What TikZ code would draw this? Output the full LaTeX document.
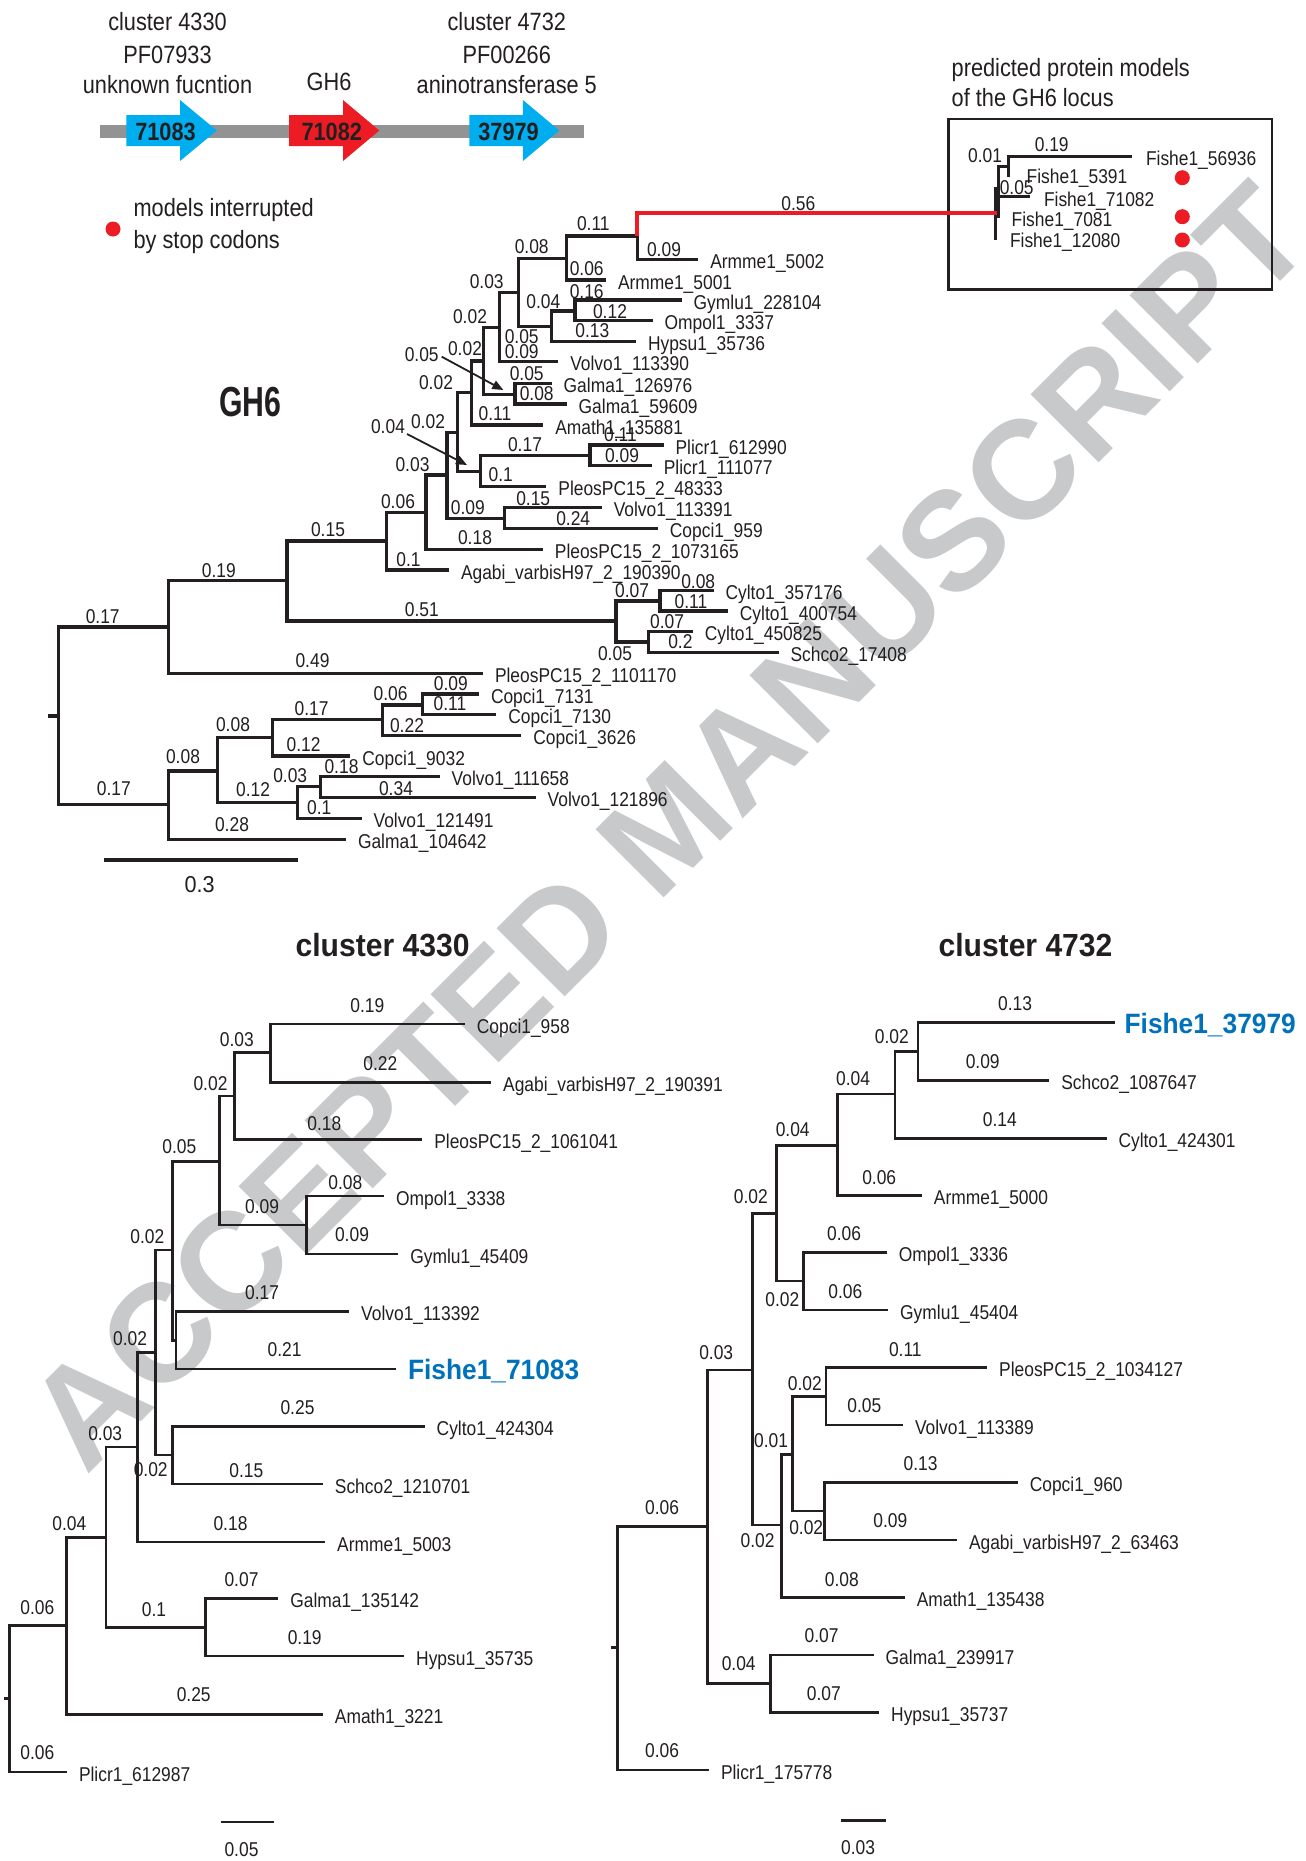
\documentclass[tikz,border=0pt]{standalone}
\usepackage{fontspec}
\usetikzlibrary{arrows.meta}
\newfontfamily\nf[FakeStretch=0.87]{Liberation Sans}
\newfontfamily\nfw[FakeStretch=0.94]{Liberation Sans}
\newfontfamily\nfg[FakeStretch=0.72]{Liberation Sans}
\newfontfamily\wmf{Liberation Sans}
\definecolor{ink}{RGB}{35,31,32}
\definecolor{gred}{RGB}{237,28,36}
\definecolor{gblue}{RGB}{0,174,239}
\definecolor{fblue}{RGB}{0,114,188}
\definecolor{bargray}{RGB}{147,147,147}
\definecolor{wmgray}{RGB}{200,201,202}
\tikzset{
  every node/.style={inner sep=0pt, outer sep=0pt, text=ink},
  gbr/.style={draw=ink, line width=3.1pt},
  lbr/.style={draw=ink, line width=2.8pt},
  ibr/.style={draw=ink, line width=3pt},
  redl/.style={draw=gred, line width=4pt},
  arr/.style={draw=ink, line width=1.8pt, -{Triangle[length=11pt,width=9pt]}},
  tl/.style={anchor=base west, font=\nf\fontsize{20}{24}\selectfont},
  bl/.style={anchor=center, font=\nf\fontsize{20}{24}\selectfont},
  toptxt/.style={anchor=base, font=\nf\fontsize{25}{30}\selectfont},
  glab/.style={anchor=base, font=\nf\bfseries\fontsize{25}{30}\selectfont},
  ttl/.style={anchor=base, font=\nfw\bfseries\fontsize{32}{36}\selectfont},
  fl/.style={anchor=base west, text=fblue, font=\nfw\bfseries\fontsize{28}{32}\selectfont},
  dot/.style={circle, fill=gred, minimum size=15pt},
}
\begin{document}
\begin{tikzpicture}[x=1pt,y=-1pt]
\useasboundingbox (0,0) rectangle (1306,1861);
\fill[white] (0,0) rectangle (1306,1861);
% watermark
\node[rotate=45, anchor=base west, text=wmgray, font=\wmf\bfseries\fontsize{140}{140}\selectfont] (wm) at (86,1476) {ACCEPTED MANUSCRIPT};

% ---------- gene locus ----------
\fill[bargray] (99.6,125) rectangle (583.6,138.3);
\fill[gblue] (126.4,115) -- (180,115) -- (180,100) -- (216.8,130.5) -- (180,161) -- (180,146) -- (126.4,146) -- cycle;
\fill[gred] (289,115) -- (343,115) -- (343,100) -- (379.3,130.5) -- (343,161) -- (343,146) -- (289,146) -- cycle;
\fill[gblue] (469.3,115) -- (522.9,115) -- (522.9,100) -- (559.3,130.5) -- (522.9,161) -- (522.9,146) -- (469.3,146) -- cycle;
\node[glab] (gene1) at (165.5,140) {71083};
\node[glab] (gene2) at (331.8,140) {71082};
\node[glab] (gene3) at (508.6,140) {37979};
\node[toptxt] (c43a) at (167.5,30) {cluster 4330};
\node[toptxt] (c43b) at (167.5,63) {PF07933};
\node[toptxt] (c43c) at (167.5,93) {unknown fucntion};
\node[toptxt] (gh6t) at (329,90) {GH6};
\node[toptxt] (c47a) at (506.8,30) {cluster 4732};
\node[toptxt] (c47b) at (506.8,63) {PF00266};
\node[toptxt] (c47c) at (506.8,93) {aninotransferase 5};
% legend
\node[dot] (legdot) at (113,229) {};
\node[toptxt, anchor=base west] (leg1) at (133.6,216.7) {models interrupted};
\node[toptxt, anchor=base west] (leg2) at (133.6,248.3) {by stop codons};

% ---------- inset ----------
\node[toptxt, anchor=base west] (ins1) at (951.7,76.7) {predicted protein models};
\node[toptxt, anchor=base west] (ins2) at (951.7,106.7) {of the GH6 locus};
\node[draw=ink, line width=2.4pt, minimum width=323.4pt, minimum height=170.3pt] (insbox) at (1110,204.15) {};
\coordinate (iR) at (996.7,213.3);
\coordinate (i1) at (995.7,186.7); \coordinate (i2) at (995.7,240);
\coordinate (i3) at (998.3,218.3); \coordinate (i4) at (1009,166.7);
\coordinate (i5) at (1008.3,176.7); \coordinate (i6) at (1132.3,156);
\coordinate (i7) at (998.3,196.7); \coordinate (i8) at (1030,196.7);
\draw[ibr] (i1) -- (i2);
\draw[ibr] (i3) |- (i4);
\draw[ibr] (i5) |- (i6);
\draw[ibr] (i7) -- (i8);
\node[tl] (f1) at (1146,165) {Fishe1\_56936};
\node[tl] (f2) at (1026.7,183.3) {Fishe1\_5391};
\node[tl] (f3) at (1044,206) {Fishe1\_71082};
\node[tl] (f4) at (1011.7,226.7) {Fishe1\_7081};
\node[tl] (f5) at (1010,247.3) {Fishe1\_12080};
\node[bl] (il1) at (985,156) {0.01};
\node[bl] (il2) at (1051.7,145) {0.19};
\node[bl] (il3) at (1016.7,187.3) {0.05};
\node[dot] (d1) at (1182.3,177.7) {};
\node[dot] (d2) at (1182.3,216.7) {};
\node[dot] (d3) at (1182.3,240) {};

% ---------- GH6 tree ----------
\node[anchor=base, font=\nfg\bfseries\fontsize{42}{42}\selectfont] (gh6title) at (250.5,416.6) {GH6};
\coordinate (gRs) at (47.8,716);
\coordinate (gR0) at (58.9,716);
\coordinate (gA) at (168.3,627);
\coordinate (gB) at (287,580.7);
\coordinate (gC) at (386.7,541);
\coordinate (gD) at (426,512.5);
\coordinate (gE) at (447,475);
\coordinate (gF) at (504.3,518.3);
\coordinate (gG) at (457.3,432.5);
\coordinate (gH) at (480.4,471.7);
\coordinate (gI) at (590,455.7);
\coordinate (gJ) at (471.7,392.7);
\coordinate (gK) at (483.3,361);
\coordinate (gL) at (515,394.3);
\coordinate (gM) at (499.3,327.5);
\coordinate (gN) at (518.5,292.7);
\coordinate (gP) at (566.7,258.3);
\coordinate (gQ) at (637.3,236);
\coordinate (gO) at (551.7,326.7);
\coordinate (gR) at (575,311);
\coordinate (gS) at (616,621);
\coordinate (gT) at (660,601);
\coordinate (gU) at (648.2,642);
\coordinate (gV) at (168.3,804.3);
\coordinate (gW) at (217.9,771);
\coordinate (gX) at (272.3,737.7);
\coordinate (gY) at (382.6,719.3);
\coordinate (gZ) at (422.8,705);
\coordinate (gAA) at (297.8,802.7);
\coordinate (gAB) at (320.5,786.7);
\foreach \n/\x/\y in {g1/698.3/259.3, g2/606/280, g3/681.7/300, g4/652.7/320.7, g5/636/341.7,
  g6/558.3/361.7, g7/551.7/383.3, g8/566.7/404, g9/543.3/425, g10/663.6/445, g11/651.8/465.7,
  g12/546.4/486.7, g13/601.8/507.7, g14/657.9/528.3, g15/542.9/549.3, g16/449/570,
  g17/713.6/590.7, g18/727.9/611, g19/692.9/631.7, g20/778.6/652.3, g21/483/673.3,
  g22/479/694, g23/496.4/714.3, g24/521.4/735.7, g25/350.4/756, g26/439.7/776.7,
  g27/535.7/797.3, g28/361.6/818.3, g29/346/839.3}
  \coordinate (\n) at (\x,\y);
\draw[gbr] (gRs) -- (gR0);
\foreach \p/\c in {gR0/gA, gR0/gV, gA/gB, gA/g21, gB/gC, gB/gS, gC/gD, gC/g16, gD/gE, gD/g15,
  gE/gG, gE/gF, gF/g13, gF/g14, gG/gJ, gG/gH, gH/gI, gH/g12, gI/g10, gI/g11, gJ/gK, gJ/g9,
  gK/gM, gK/gL, gL/g7, gL/g8, gM/gN, gM/g6, gN/gP, gN/gO, gP/gQ, gP/g2, gQ/g1, gO/gR, gO/g5,
  gR/g3, gR/g4, gS/gT, gS/gU, gT/g17, gT/g18, gU/g19, gU/g20, gV/gW, gV/g29, gW/gX, gW/gAA,
  gX/gY, gX/g25, gY/gZ, gY/g24, gZ/g22, gZ/g23, gAA/gAB, gAA/g28, gAB/g26, gAB/g27}
  \draw[gbr] (\p) |- (\c);
\draw[redl] (gQ) |- (iR);
\foreach \n/\t in {g1/Armme1\_5002, g2/Armme1\_5001, g3/Gymlu1\_228104, g4/Ompol1\_3337,
  g5/Hypsu1\_35736, g6/Volvo1\_113390, g7/Galma1\_126976, g8/Galma1\_59609, g9/Amath1\_135881,
  g10/Plicr1\_612990, g11/Plicr1\_111077, g12/PleosPC15\_2\_48333, g13/Volvo1\_113391,
  g14/Copci1\_959, g15/PleosPC15\_2\_1073165, g16/Agabi\_varbisH97\_2\_190390,
  g17/Cylto1\_357176, g18/Cylto1\_400754, g19/Cylto1\_450825, g20/Schco2\_17408,
  g21/PleosPC15\_2\_1101170, g22/Copci1\_7131, g23/Copci1\_7130, g24/Copci1\_3626,
  g25/Copci1\_9032, g26/Volvo1\_111658, g27/Volvo1\_121896, g28/Volvo1\_121491, g29/Galma1\_104642}
  \node[tl] (L\n) at ([shift={(12,9)}]\n) {\t};
\foreach \x/\y/\t [count=\i] in {102.7/616.7/0.17, 218.8/570.7/0.19, 312.5/660.7/0.49, 328/530/0.15,
  421.9/610/0.51, 408.5/559.3/0.1, 398/501.7/0.06, 475/537.3/0.18, 412.5/465/0.03, 467.9/507.3/0.09,
  533.2/498.3/0.15, 573.2/518.3/0.24, 428/421.7/0.02, 388/426.7/0.04, 525/445/0.17, 500.7/475/0.1,
  620.4/435/0.11, 622/456/0.09, 436/382.7/0.02, 495/413.3/0.11, 465/348.3/0.02, 421.7/355/0.05,
  526.7/373.3/0.05, 536.7/393.3/0.08, 470/317/0.02, 521.7/351.7/0.09, 521.7/336.7/0.05,
  486.7/281.7/0.03, 531.7/246.7/0.08, 586.7/269/0.06, 593.3/224/0.11, 664/250/0.09, 798.3/203.3/0.56,
  543.3/301.7/0.04, 592.3/330.7/0.13, 586.7/291.7/0.16, 610/311.7/0.12, 632.1/590.7/0.07,
  698.2/581.7/0.08, 691/601.7/0.11, 615/653.3/0.05, 667.1/621.7/0.07, 680.4/641.7/0.2,
  113.8/788.3/0.17, 232/825/0.28, 183/756.7/0.08, 233/725/0.08, 303.6/744.3/0.12, 311.6/708.3/0.17,
  407/725.7/0.22, 390.6/693.3/0.06, 450.9/683.3/0.09, 450/704/0.11, 253.1/789.3/0.12,
  319.2/807.3/0.1, 290.2/776/0.03, 341.5/766.7/0.18, 396/788.3/0.34}
  \node[bl] (gl\i) at (\x,\y) {\t};
\coordinate (ga1s) at (407,434); \coordinate (ga1e) at (467,465);
\draw[arr] (ga1s) -- (ga1e);
\coordinate (ga2s) at (441.7,356.7); \coordinate (ga2e) at (503.3,390);
\draw[arr] (ga2s) -- (ga2e);
\coordinate (gs1) at (103.6,860); \coordinate (gs2) at (297.8,860);
\draw[gbr] (gs1) -- (gs2);
\node[anchor=center, font=\nfw\fontsize{23}{26}\selectfont] (gsl) at (199.6,885) {0.3};

% ---------- cluster 4330 ----------
\node[ttl] (t4330) at (382.6,956.7) {cluster 4330};
\coordinate (ams) at (3.8,1698.3);
\coordinate (am) at (9.1,1698.3);
\coordinate (al) at (66.7,1625.7);
\coordinate (aj) at (106,1537.7);
\coordinate (ai) at (137.7,1447);
\coordinate (ag) at (155.7,1352.3);
\coordinate (ae) at (172.3,1250);
\coordinate (ac) at (219.5,1161.7);
\coordinate (ab) at (234.8,1096);
\coordinate (aa) at (270.4,1052.7);
\coordinate (ad) at (306.1,1225);
\coordinate (af) at (176,1340.7);
\coordinate (ah) at (172.3,1455);
\coordinate (ak) at (205.7,1627.3);
\foreach \n/\x/\y in {a1/464.9/1024, a2/491.2/1082.3, a3/422.3/1139.3, a4/384.1/1196, a5/398.4/1254,
  a6/349.2/1311.7, a7/396/1369, a8/424.7/1426.7, a9/322.9/1484, a10/325.2/1542, a11/278.4/1598.7,
  a12/404.2/1656, a13/322.9/1714.7, a14/67/1772}
  \coordinate (\n) at (\x,\y);
\draw[lbr] (ams) -- (am);
\foreach \p/\c in {am/al, am/a14, al/aj, al/a13, aj/ai, aj/ak, ai/ag, ai/a10, ag/ae, ag/ah,
  ae/ac, ae/af, ac/ab, ac/ad, ab/aa, ab/a3, aa/a1, aa/a2, ad/a4, ad/a5, af/a6, af/a7,
  ah/a8, ah/a9, ak/a11, ak/a12}
  \draw[lbr] (\p) |- (\c);
\foreach \n/\t in {a1/Copci1\_958, a2/Agabi\_varbisH97\_2\_190391, a3/PleosPC15\_2\_1061041,
  a4/Ompol1\_3338, a5/Gymlu1\_45409, a6/Volvo1\_113392, a8/Cylto1\_424304, a9/Schco2\_1210701,
  a10/Armme1\_5003, a11/Galma1\_135142, a12/Hypsu1\_35735, a13/Amath1\_3221, a14/Plicr1\_612987}
  \node[tl] (L\n) at ([shift={(12,9)}]\n) {\t};
\node[fl] (La7) at ([shift={(12,10.5)}]a7) {Fishe1\_71083};
\foreach \x/\y/\t [count=\i] in {367.3/1006/0.19, 380.3/1063.3/0.22, 236.8/1040/0.03, 324.3/1124/0.18,
  210.5/1083.3/0.02, 262.1/1206.7/0.09, 345.3/1182.7/0.08, 352/1235/0.09, 179.4/1146.7/0.05,
  147.3/1236.7/0.02, 262.1/1292.7/0.17, 284.6/1349.3/0.21, 130.1/1338.3/0.02, 150.7/1469.3/0.02,
  297.5/1407.3/0.25, 246.3/1470.7/0.15, 105.2/1434/0.03, 230.5/1523.3/0.18, 154/1609.3/0.1,
  241.5/1580/0.07, 304.7/1637.3/0.19, 69.4/1524/0.04, 193.7/1695/0.25, 37.3/1607.3/0.06,
  37.3/1752.7/0.06}
  \node[bl] (al\i) at (\x,\y) {\t};
\coordinate (as1) at (221,1822); \coordinate (as2) at (273.6,1822);
\draw[lbr] (as1) -- (as2);
\node[bl] (asl) at (241.5,1850) {0.05};

% ---------- cluster 4732 ----------
\node[ttl] (t4732) at (1025.5,956.7) {cluster 4732};
\coordinate (bNs) at (611.3,1647.3);
\coordinate (bN) at (617.6,1647.3);
\coordinate (bG) at (707.5,1526.7);
\coordinate (bF) at (752.2,1370);
\coordinate (bD) at (776.1,1213.3);
\coordinate (bC) at (837.7,1145.3);
\coordinate (bB) at (894.9,1094);
\coordinate (bA) at (917.9,1051.7);
\coordinate (bE) at (803.5,1281);
\coordinate (bH) at (781.4,1525);
\coordinate (bI) at (792.3,1454.3);
\coordinate (bJ) at (826,1396.7);
\coordinate (bK) at (824.2,1511);
\coordinate (bL) at (770.2,1683.3);
\foreach \n/\x/\y in {b1/1114.6/1022.7, b2/1049.3/1080.7, b3/1106.5/1138.3, b4/921.9/1195.3,
  b5/886.8/1252.3, b6/888.2/1310, b7/987.2/1367.7, b8/903/1425, b9/1017.8/1482.7, b10/957/1540,
  b11/904.8/1597.7, b12/873.7/1655, b13/879.2/1712.3, b14/709/1770}
  \coordinate (\n) at (\x,\y);
\draw[lbr] (bNs) -- (bN);
\foreach \p/\c in {bN/bG, bN/b14, bG/bF, bG/bL, bF/bD, bF/bH, bD/bC, bD/bE, bC/bB, bC/b4,
  bB/bA, bB/b3, bA/b1, bA/b2, bE/b5, bE/b6, bH/bI, bH/b11, bI/bJ, bI/bK, bJ/b7, bJ/b8,
  bK/b9, bK/b10, bL/b12, bL/b13}
  \draw[lbr] (\p) |- (\c);
\foreach \n/\t in {b2/Schco2\_1087647, b3/Cylto1\_424301, b4/Armme1\_5000, b5/Ompol1\_3336,
  b6/Gymlu1\_45404, b7/PleosPC15\_2\_1034127, b8/Volvo1\_113389, b9/Copci1\_960,
  b10/Agabi\_varbisH97\_2\_63463, b11/Amath1\_135438, b12/Galma1\_239917, b13/Hypsu1\_35737,
  b14/Plicr1\_175778}
  \node[tl] (L\n) at ([shift={(12,9)}]\n) {\t};
\node[fl] (Lb1) at ([shift={(10,10.5)}]b1) {Fishe1\_37979};
\foreach \x/\y/\t [count=\i] in {1015.1/1003.3/0.13, 982.7/1061.7/0.09, 891.8/1036.7/0.02,
  999.8/1119.3/0.14, 853/1078.3/0.04, 879.2/1177.3/0.06, 792.7/1129.3/0.04, 782.4/1299.3/0.02,
  844/1234/0.06, 845.4/1291.7/0.06, 750.8/1196.7/0.02, 716.2/1352.7/0.03, 757.6/1540.7/0.02,
  841.8/1579.3/0.08, 771.1/1440.7/0.01, 804.9/1383.3/0.02, 905.3/1350/0.11, 864.3/1406/0.05,
  806.2/1527.3/0.02, 920.6/1463.3/0.13, 890.4/1521/0.09, 738.7/1664/0.04, 821.5/1636/0.07,
  823.8/1693.3/0.07, 662.1/1507.7/0.06, 662.1/1750.7/0.06}
  \node[bl] (bl\i) at (\x,\y) {\t};
\coordinate (bs1) at (840.9,1820.7); \coordinate (bs2) at (885.9,1820.7);
\draw[lbr] (bs1) -- (bs2);
\node[bl] (bsl) at (858,1847.3) {0.03};
\end{tikzpicture}
\end{document}
